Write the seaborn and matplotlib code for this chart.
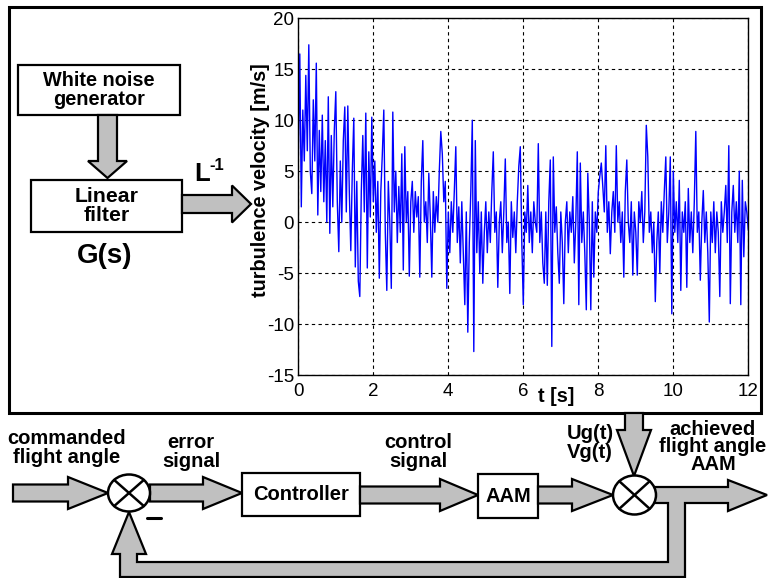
import numpy as np
import seaborn as sns
import matplotlib.pyplot as plt
from matplotlib.patches import Polygon, Rectangle, Ellipse

# turbulence velocity [m/s], one row per second (dt = 0.04 s)
velocity = [
    6, 16.5, 1.5, 11, 6, 14.4, 7, 17.4, 5, 2.8, 12, 6, 15.6, 0.7, 9, 3, 10.5, 2, 8, 0, 12.3, -1.1, 8.5, 1.5, 9,
    12.8, 2, -2.9, 6, 0, 8, 11.3, 1, 11.4, 3, -2.8, 5, 10.2, -4.4, 4, -5.8, -7.3, 3, 8.5, 1, 10.7, -4.5, 6.9, 0.5, 10.3,
    2, 6, -1, 4, -5.5, 3, 6.6, 11, -1, -6.7, 4, 0, -6.5, 10.8, 1, 5, -2, 3.5, -1, 6.7, -4.7, 7.4, 0, 3, -5.3,
    2, 4, -1, 3, 0.5, 2.5, -5.4, 4, 8, 0, 2, -2, 4.8, 0.5, -5.4, 3, -1, 2.5, 0, 5, 8.9, 6.7, 2, 4, -6.5,
    1, -3, 2, -1, 3, 7.4, -2, 1.5, -4, 2, -3, -8.1, 1, -10.8, -2, 3, 10, -12.7, 8, -3, 2, -5, 1, -6, -1,
    2, -3, 1, -2, 3, 6.9, -1, 1, -6.4, 0, 2, -3, 1, 6.2, -2, 0, -7, 2, -1.5, 1, -3, 2, 5.5, 7.4, -2,
    -8.1, 1, -1, 3.6, -2, 1, -3, 2, 0, -1, 7.7, -2, 1, -4, -6, 1, -6.2, 2, 6.1, -12.2, 6.4, -1, 1.5, -3, -6,
    1, -2, -8, 0, 2, -3, 1, -1, 2.5, -4, 0, 6.9, -8.1, 5.8, -2, 1, -3, -8.6, 4.8, 0, -8.6, 2, -5.4, 1, -1,
    3, 4.5, 5.8, 3.5, 1, 7.5, -1, 2, -3.1, 1, 3, -1, 7.5, 0, 2, -2, 1, -5.4, 3, 6.1, 0, -2, 2, -5.2, 1,
    -1, -5.2, 2, 0, 3, -2, 1, 9.5, 6.4, -1, 1, -3, 0, -7.8, -2, 1, -5, 2, -1, 3, 6.4, -2, 1, 6.4, -9,
    5, -1, 2, -2, 4.1, -6.7, 1, -1, 2, -6.4, 3.3, -2, 1, -3, 2, 8.9, -1, 1, -5.7, 0, 3.1, -2, 1, -3, -9.8,
    1, -2, 2, -3, 1, -1, -7.3, 2, -1, 1, 3.6, -2, 7.5, -8, 1, 3.6, -1, 2, -2, 5, -8.1, 4.1, -3.4, 2, 1,
    -0.8,
]
dt = 0.04
time = [i * dt for i in range(len(velocity))]

x_ticks = [0, 2, 4, 6, 8, 10, 12]
y_ticks = [-15, -10, -5, 0, 5, 10, 15, 20]

sns.set_style("white")
plt.rcParams["font.family"] = ["Liberation Sans", "DejaVu Sans"]
plt.rcParams["text.color"] = "black"

W, H = 768, 578
fig = plt.figure(figsize=(W / 100, H / 100), dpi=100)

# background axes in pixel coordinates for the block diagram
bg = fig.add_axes([0, 0, 1, 1])
bg.set_xlim(0, W)
bg.set_ylim(H, 0)
bg.axis("off")

GRAY = "#c0c0c0"


def shape(pts):
    bg.add_patch(Polygon(pts, closed=True, facecolor=GRAY, edgecolor="black", lw=1.6, joinstyle="miter"))


def harrow(x0, x1, xt, yc, sh, hh):
    shape([(x0, yc - sh), (x1, yc - sh), (x1, yc - hh), (xt, yc),
           (x1, yc + hh), (x1, yc + sh), (x0, yc + sh)])


def varrow(y0, y1, yt, xc, sh, hh):
    shape([(xc - sh, y0), (xc - sh, y1), (xc - hh, y1), (xc, yt),
           (xc + hh, y1), (xc + sh, y1), (xc + sh, y0)])


def box(x0, y0, x1, y1):
    bg.add_patch(Rectangle((x0, y0), x1 - x0, y1 - y0, facecolor="white", edgecolor="black", lw=1.6))


def junction(xc, yc, w, h):
    bg.add_patch(Ellipse((xc, yc), w, h, facecolor="white", edgecolor="black", lw=1.8, zorder=3))
    dx, dy = w / 2 * 0.707, h / 2 * 0.707
    bg.plot([xc - dx, xc + dx], [yc - dy, yc + dy], color="black", lw=1.8, zorder=4)
    bg.plot([xc - dx, xc + dx], [yc + dy, yc - dy], color="black", lw=1.8, zorder=4)


def label(x, y, s, size=14.5, spacing=0.95, **kw):
    bg.text(x, y, s, ha="center", va="center", fontsize=size, fontweight="bold",
            linespacing=spacing, color="black", **kw)


# outer frame around the upper part
bg.add_patch(Rectangle((9, 7), 752, 406, fill=False, edgecolor="black", lw=2.2))

# noise generator -> filter
box(18, 65, 180, 115)
label(99, 90, "White noise\ngenerator", 14.3)
varrow(115, 161, 178, 107.5, 9.5, 19.5)
box(31, 180, 182, 232)
label(107, 206, "Linear\nfilter", 15.3)
label(105, 256, "G(s)", 20)
harrow(182, 232, 251, 204, 9, 18.5)
label(202, 174, "L", 18.5)
label(217, 165, "-1", 12)

# control loop
harrow(13, 68, 108, 493, 8.5, 16)
harrow(150, 203, 242, 493, 8.5, 16)
box(242, 473, 360, 516)
label(301, 494, "Controller")
harrow(360, 440, 478, 495, 8.5, 16)
box(478, 474, 538, 518)
label(508, 496, "AAM")
harrow(538, 572, 613, 495, 8.5, 16)
varrow(413, 430, 476, 634, 9, 17)

# output arrow with feedback path
shape([(650, 487), (728, 487), (728, 480), (767, 495), (728, 511), (728, 503), (685, 503),
       (685, 577), (120, 577), (120, 554), (112, 554), (129, 512), (146, 554), (137, 554),
       (137, 562), (668, 562), (668, 503), (650, 503)])

junction(129, 493, 42, 37)
junction(634.5, 495, 43, 39)
bg.plot([147, 161], [518, 518], color="black", lw=2.2)

label(67, 448, "commanded\nflight angle")
label(191, 452, "error\nsignal")
label(418, 452, "control\nsignal")
label(590, 443, "Ug(t)\nVg(t)")
label(713, 447, "achieved\nflight angle\nAAM", spacing=0.9)

# turbulence signal
left, right, top, bottom = 298.3, 748.3, 18.3, 375
ax = fig.add_axes([left / W, 1 - bottom / H, (right - left) / W, (bottom - top) / H])
ax.set_facecolor("white")
sns.lineplot(x=time, y=velocity, ax=ax, color="#0000ff", lw=1.0, estimator=None, sort=False)
ax.set_xlim(0, 12)
ax.set_ylim(-15, 20)
ax.set_xticks(x_ticks)
ax.set_yticks(y_ticks)
ax.set_xticklabels([str(v) for v in x_ticks])
ax.set_yticklabels([str(v) for v in y_ticks])
ax.tick_params(direction="in", length=4, labelsize=13.5, colors="black")
ax.tick_params(axis="x", pad=6)
ax.tick_params(axis="y", pad=3)
ax.grid(True, color="black", linestyle=(0, (3, 3)), lw=0.8)
for sp in ax.spines.values():
    sp.set_color("black")
    sp.set_linewidth(1)
ax.set_xlabel("")
ax.set_ylabel("")

label(261, 180, "turbulence velocity [m/s]", 14.3, rotation=90)
label(556, 397, "t [s]", 14.3)

fig.savefig("out.png", dpi=100)
